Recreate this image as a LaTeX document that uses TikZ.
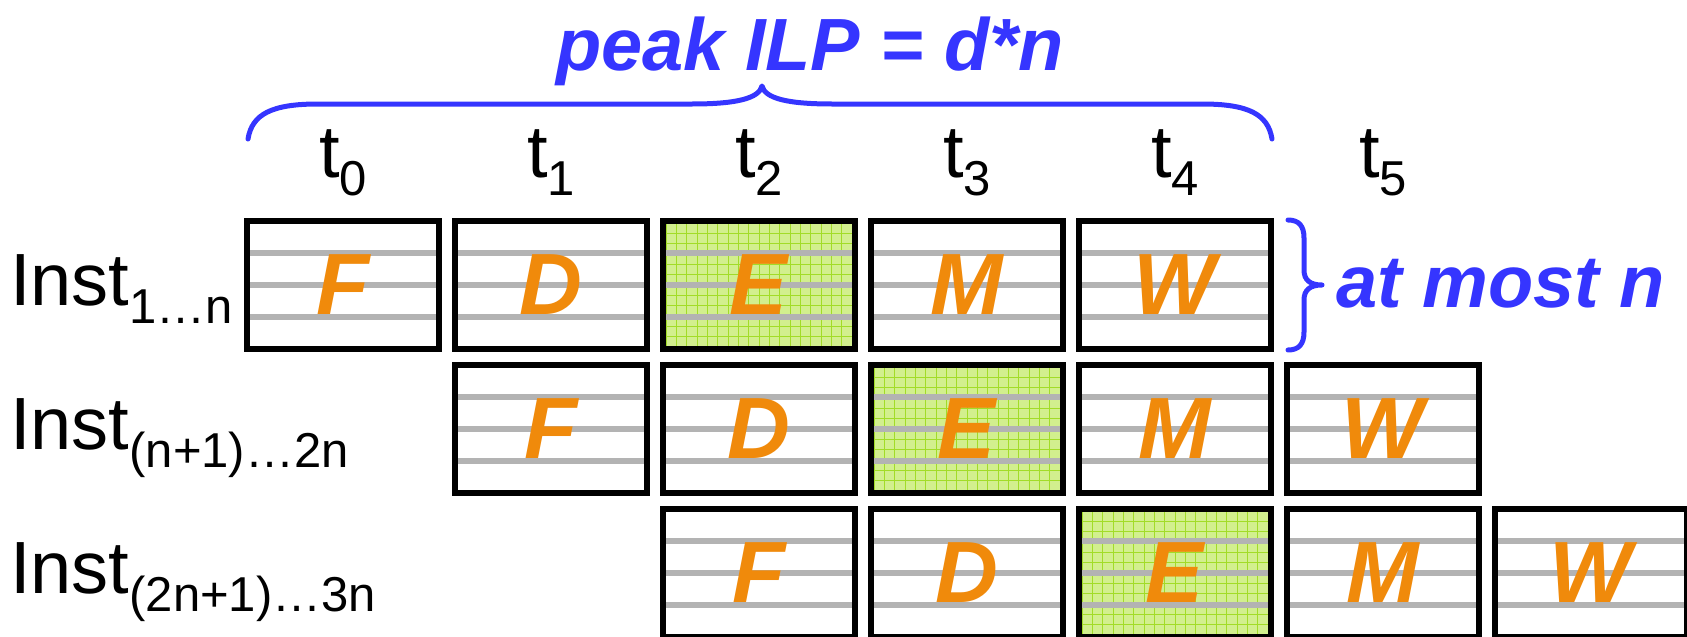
\documentclass[tikz,border=0pt]{standalone}
\usepackage{fontspec}
\setmainfont{Liberation Sans}
\usetikzlibrary{calc}

\definecolor{stageorange}{HTML}{F08A0B}
\definecolor{noteblue}{HTML}{3535FF}
\definecolor{lanegray}{HTML}{B3B3B3}
\definecolor{execfill}{HTML}{D2EF8E}
\definecolor{execgrid}{HTML}{A2DC28}

% lowered subscript used by the time and instruction labels
\newcommand\tsub[1]{\raisebox{-18pt}{\fontsize{49}{52}\selectfont #1}}

\tikzset{
  lanes/.code={},
  stagebox/.style={minimum width=192pt, minimum height=128pt, inner sep=0pt,
    outer sep=0pt, fill=white,
    path picture={
      \foreach \dy in {-32,0,32}{
        \draw[lanegray, line width=5.5pt]
          ($(path picture bounding box.west)+(0,\dy)$) --
          ($(path picture bounding box.east)+(0,\dy)$);}
    }},
  execbox/.style={minimum width=192pt, minimum height=128pt, inner sep=0pt,
    outer sep=0pt, fill=execfill,
    path picture={
      \draw[execgrid, line width=0.9pt, step=10.33pt]
        (path picture bounding box.south west) grid
        (path picture bounding box.north east);
      \foreach \dy in {-32,0,32}{
        \draw[lanegray, line width=5.5pt]
          ($(path picture bounding box.west)+(0,\dy)$) --
          ($(path picture bounding box.east)+(0,\dy)$);}
    }},
  boxline/.style={draw=black, line width=6pt},
  stageletter/.style={inner sep=0pt, text=stageorange,
    font=\fontsize{87}{90}\selectfont\bfseries\itshape},
  timelabel/.style={inner sep=0pt, anchor=base,
    font=\fontsize{74}{80}\selectfont},
  rowlabel/.style={inner sep=0pt, anchor=base west,
    font=\fontsize{74}{80}\selectfont},
  bluelabel/.style={inner sep=0pt, text=noteblue,
    font=\fontsize{74}{80}\selectfont\bfseries\itshape},
  bracepen/.style={draw=noteblue, line width=5pt, line cap=round, line join=round},
}

\begin{document}
\begin{tikzpicture}[x=1pt, y=-1pt]
  \useasboundingbox (0,0) rectangle (1687,637);
  \clip (0,0) rectangle (1687,637);

  % pipeline stages: three groups of instructions, shifted one cycle each
  \foreach \r/\cy in {0/285,1/429,2/573}{
    \foreach \k/\L in {0/F,1/D,2/E,3/M,4/W}{
      \pgfmathtruncatemacro\c{\r+\k}
      \pgfmathsetmacro\cx{343+208*\c}
      \ifnum\k=2
        \node[execbox] (s\r\k) at (\cx,\cy) {};
      \else
        \node[stagebox] (s\r\k) at (\cx,\cy) {};
      \fi
      \node[stageletter] (l\r\k) at (s\r\k) {\L};
      \draw[boxline] (s\r\k.north west) rectangle (s\r\k.south east);
    }
  }

  % cycle labels
  \foreach \c in {0,...,5}{
    \pgfmathsetmacro\cx{343+208*\c}
    \node[timelabel] (t\c) at (\cx,177) {t\tsub{\c}};
  }

  % instruction group labels
  \node[rowlabel] (inst1) at (10,305) {Inst\tsub{1…n}};
  \node[rowlabel] (inst2) at (10,449) {Inst\tsub{(n+1)…2n}};
  \node[rowlabel] (inst3) at (10,593) {Inst\tsub{(2n+1)…3n}};

  % brace over the five stages
  \draw[bracepen] (248,139) .. controls (252,114) and (272,104) .. (318,104)
    -- (692,104) .. controls (738,104) and (759,98) .. (762,86)
    .. controls (765,98) and (786,104) .. (832,104)
    -- (1202,104) .. controls (1248,104) and (1268,114) .. (1272,139);
  \node[bluelabel, anchor=base] (ilp) at (810,70) {peak ILP = d*n};

  % brace beside the first group
  \draw[bracepen] (1288,220) .. controls (1299,220) and (1304,226) .. (1304,238)
    -- (1304,270) .. controls (1304,280) and (1310,285) .. (1322,285)
    .. controls (1310,285) and (1304,290) .. (1304,300)
    -- (1304,332) .. controls (1304,344) and (1299,350) .. (1288,350);
  \node[bluelabel, anchor=base west] (atmost) at (1336,307) {at most n};
\end{tikzpicture}
\end{document}
